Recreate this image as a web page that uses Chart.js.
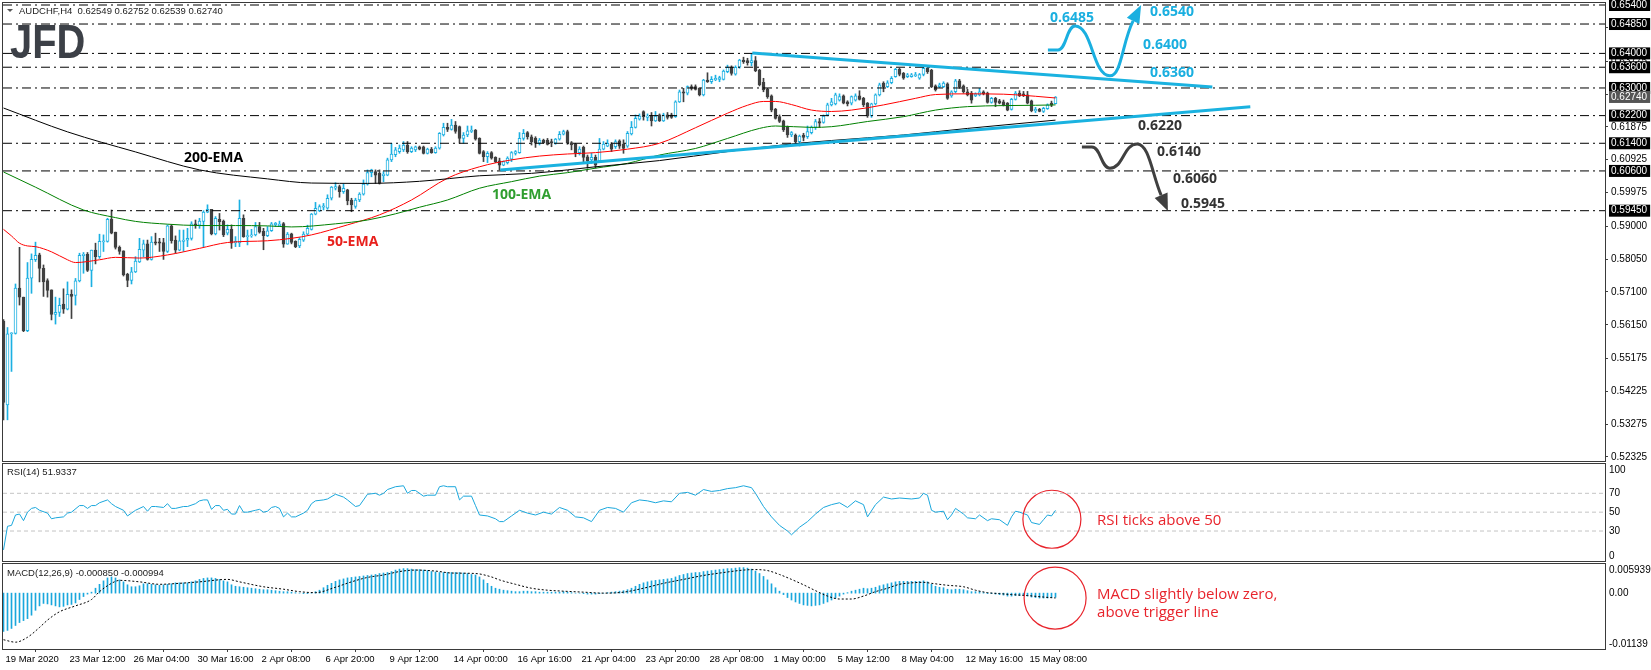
<!DOCTYPE html>
<html>
<head>
<meta charset="utf-8">
<title>AUDCHF H4</title>
<script src="https://cdn.jsdelivr.net/npm/chart.js@4.4.1/dist/chart.umd.min.js"></script>
<style>
  body { margin: 0; background: #fff; }
  #wrap { position: relative; width: 1651px; height: 670px; }
  canvas { position: absolute; left: 0; }
</style>
</head>
<body>
<div id="wrap">
  <canvas id="priceChart" style="top:0" width="1651" height="462"></canvas>
  <canvas id="rsiChart" style="top:462px" width="1651" height="100"></canvas>
  <canvas id="macdChart" style="top:562px" width="1651" height="108"></canvas>
</div>
<script>
// ---- values ----
const symbol = 'AUDCHF,H4';
const timeLabels = ['19 Mar 2020', '23 Mar 12:00', '26 Mar 04:00', '30 Mar 16:00', '2 Apr 08:00', '6 Apr 20:00',
  '9 Apr 12:00', '14 Apr 00:00', '16 Apr 16:00', '21 Apr 04:00', '23 Apr 20:00', '28 Apr 08:00',
  '1 May 00:00', '5 May 12:00', '8 May 04:00', '12 May 16:00', '15 May 08:00'];

const open = [
  .5626,.5383,.5589,.5590,.5721,.5695,.5598,.5750,.5803,.5817,
  .5778,.5743,.5716,.5645,.5651,.5675,.5660,.5703,.5700,.5742,
  .5815,.5819,.5772,.5831,.5812,.5855,.5856,.5920,.5883,.5839,
  .5829,.5761,.5743,.5768,.5797,.5831,.5849,.5804,.5855,.5855,
  .5853,.5827,.5901,.5860,.5831,.5856,.5860,.5865,.5907,.5903,
  .5914,.5941,.5949,.5878,.5920,.5915,.5880,.5891,.5852,.5852,
  .5923,.5870,.5872,.5875,.5899,.5885,.5873,.5887,.5904,.5902,
  .5908,.5848,.5878,.5856,.5843,.5860,.5877,.5891,.5935,.5945,
  .5955,.5952,.5981,.6010,.6015,.6000,.6005,.5976,.5957,.5976,
  .5993,.6022,.6055,.6058,.6053,.6046,.6048,.6092,.6107,.6116,
  .6121,.6135,.6116,.6121,.6130,.6130,.6111,.6123,.6113,.6126,
  .6164,.6186,.6180,.6193,.6188,.6154,.6164,.6174,.6178,.6154,
  .6116,.6101,.6113,.6099,.6089,.6077,.6084,.6094,.6111,.6113,
  .6154,.6171,.6159,.6154,.6140,.6149,.6149,.6145,.6140,.6152,
  .6166,.6174,.6142,.6138,.6113,.6128,.6101,.6092,.6099,.6089,
  .6123,.6132,.6138,.6130,.6147,.6138,.6132,.6167,.6186,.6210,
  .6232,.6215,.6219,.6205,.6222,.6205,.6222,.6222,.6217,.6260,
  .6289,.6285,.6304,.6304,.6299,.6280,.6323,.6318,.6323,.6325,
  .6325,.6347,.6360,.6340,.6360,.6381,.6379,.6373,.6379,.6352,
  .6316,.6296,.6277,.6238,.6217,.6205,.6186,.6164,.6164,.6145,
  .6164,.6159,.6171,.6186,.6203,.6200,.6222,.6251,.6254,.6265,
  .6277,.6260,.6256,.6265,.6277,.6270,.6256,.6219,.6254,.6280,
  .6314,.6304,.6315,.6333,.6354,.6342,.6333,.6333,.6335,.6328,
  .6339,.6357,.6352,.6306,.6304,.6304,.6312,.6277,.6289,.6321,
  .6306,.6289,.6285,.6277,.6280,.6289,.6285,.6258,.6270,.6263,
  .6260,.6256,.6238,.6267,.6285,.6283,.6280,.6263,.6234,.6238,
  .6232,.6240,.6256,.62549];
const high = [
  .5630,.5607,.5592,.5733,.5839,.5695,.5795,.5820,.5854,.5822,
  .5788,.5748,.5716,.5695,.5692,.5719,.5739,.5716,.5749,.5822,
  .5824,.5824,.5831,.5851,.5877,.5875,.5923,.5947,.5883,.5843,
  .5829,.5764,.5781,.5812,.5865,.5860,.5860,.5870,.5880,.5865,
  .5865,.5904,.5904,.5872,.5889,.5889,.5894,.5913,.5918,.5923,
  .5945,.5962,.5949,.5928,.5937,.5918,.5904,.5904,.5870,.5976,
  .5933,.5889,.5891,.5911,.5911,.5894,.5899,.5911,.5911,.5915,
  .5911,.5882,.5880,.5858,.5867,.5884,.5903,.5937,.5969,.5962,
  .5966,.5991,.6015,.6026,.6019,.6022,.6007,.5981,.5981,.5997,
  .6034,.6063,.6065,.6063,.6063,.6058,.6097,.6140,.6128,.6135,
  .6145,.6145,.6130,.6132,.6132,.6132,.6126,.6128,.6130,.6171,
  .6198,.6198,.6209,.6203,.6190,.6171,.6190,.6190,.6180,.6156,
  .6119,.6116,.6116,.6101,.6097,.6089,.6101,.6116,.6119,.6171,
  .6180,.6174,.6164,.6159,.6154,.6152,.6154,.6152,.6154,.6174,
  .6178,.6178,.6145,.6140,.6130,.6132,.6106,.6111,.6106,.6154,
  .6145,.6150,.6142,.6150,.6150,.6150,.6174,.6203,.6222,.6225,
  .6234,.6225,.6229,.6232,.6225,.6227,.6229,.6227,.6263,.6294,
  .6299,.6306,.6309,.6309,.6301,.6325,.6344,.6333,.6337,.6334,
  .6352,.6366,.6364,.6364,.6383,.6389,.6386,.6398,.6391,.6354,
  .6328,.6299,.6280,.6241,.6222,.6207,.6190,.6174,.6167,.6164,
  .6169,.6190,.6190,.6209,.6212,.6222,.6256,.6270,.6285,.6283,
  .6280,.6263,.6277,.6283,.6292,.6273,.6258,.6256,.6283,.6314,
  .6318,.6321,.6333,.6357,.6357,.6345,.6342,.6342,.6345,.6342,
  .6362,.6360,.6354,.6309,.6314,.6318,.6315,.6292,.6325,.6325,
  .6309,.6296,.6290,.6286,.6299,.6292,.6288,.6273,.6273,.6267,
  .6265,.6258,.6270,.6290,.6292,.6290,.6290,.6265,.6244,.6241,
  .6244,.6254,.6262,.62752];
const low = [
  .5340,.5340,.5480,.5588,.5672,.5595,.5595,.5706,.5798,.5739,
  .5697,.5695,.5629,.5617,.5639,.5648,.5658,.5633,.5672,.5739,
  .5764,.5769,.5725,.5791,.5807,.5827,.5854,.5878,.5834,.5819,
  .5756,.5725,.5733,.5766,.5795,.5812,.5802,.5802,.5846,.5827,
  .5804,.5824,.5851,.5822,.5829,.5827,.5841,.5860,.5894,.5894,
  .5841,.5939,.5875,.5875,.5889,.5870,.5875,.5836,.5841,.5841,
  .5868,.5846,.5868,.5872,.5880,.5832,.5870,.5885,.5899,.5899,
  .5839,.5848,.5849,.5838,.5838,.5856,.5875,.5889,.5933,.5942,
  .5947,.5949,.5976,.6005,.5984,.5995,.5962,.5942,.5952,.5971,
  .5990,.6019,.6043,.6024,.6022,.6029,.6046,.6087,.6101,.6111,
  .6116,.6111,.6113,.6116,.6121,.6109,.6109,.6111,.6111,.6123,
  .6161,.6174,.6178,.6169,.6140,.6140,.6159,.6171,.6149,.6109,
  .6087,.6084,.6094,.6084,.6063,.6075,.6080,.6087,.6106,.6111,
  .6149,.6152,.6135,.6128,.6135,.6140,.6135,.6130,.6137,.6149,
  .6164,.6137,.6121,.6101,.6106,.6087,.6068,.6082,.6068,.6087,
  .6121,.6130,.6116,.6125,.6125,.6111,.6128,.6164,.6184,.6207,
  .6207,.6205,.6190,.6203,.6203,.6203,.6210,.6212,.6215,.6258,
  .6260,.6280,.6294,.6294,.6277,.6277,.6316,.6313,.6321,.6318,
  .6323,.6344,.6337,.6337,.6357,.6371,.6366,.6364,.6347,.6306,
  .6289,.6270,.6231,.6210,.6200,.6174,.6157,.6159,.6140,.6132,
  .6147,.6154,.6167,.6180,.6186,.6198,.6219,.6248,.6251,.6262,
  .6254,.6248,.6251,.6262,.6265,.6246,.6215,.6215,.6251,.6277,
  .6289,.6301,.6312,.6331,.6335,.6325,.6330,.6331,.6333,.6325,
  .6335,.6342,.6301,.6291,.6301,.6301,.6267,.6273,.6286,.6299,
  .6285,.6277,.6256,.6275,.6277,.6280,.6256,.6256,.6246,.6254,
  .6248,.6234,.6236,.6265,.6275,.6275,.6254,.6231,.6229,.6231,
  .6229,.6238,.6246,.62539];
const close = [
  .5390,.5589,.5592,.5721,.5695,.5598,.5750,.5804,.5816,.5778,
  .5739,.5714,.5645,.5651,.5671,.5660,.5703,.5697,.5742,.5816,
  .5819,.5772,.5831,.5812,.5856,.5858,.5920,.5880,.5839,.5827,
  .5759,.5743,.5768,.5799,.5833,.5849,.5804,.5854,.5851,.5851,
  .5827,.5901,.5858,.5831,.5858,.5860,.5865,.5907,.5903,.5915,
  .5941,.5949,.5878,.5923,.5913,.5875,.5891,.5851,.5856,.5923,
  .5870,.5872,.5875,.5899,.5883,.5873,.5887,.5907,.5909,.5906,
  .5848,.5877,.5853,.5841,.5862,.5877,.5894,.5935,.5952,.5957,
  .5959,.5981,.6013,.6015,.6000,.6010,.5973,.5962,.5976,.5993,
  .6022,.6055,.6063,.6048,.6024,.6051,.6092,.6109,.6121,.6126,
  .6135,.6116,.6126,.6130,.6123,.6111,.6123,.6113,.6126,.6169,
  .6186,.6180,.6193,.6174,.6154,.6164,.6176,.6178,.6152,.6111,
  .6101,.6111,.6097,.6087,.6077,.6087,.6097,.6113,.6116,.6154,
  .6169,.6159,.6145,.6140,.6149,.6142,.6137,.6140,.6152,.6166,
  .6174,.6140,.6135,.6113,.6123,.6099,.6089,.6099,.6077,.6123,
  .6138,.6140,.6123,.6145,.6132,.6125,.6169,.6186,.6212,.6219,
  .6217,.6219,.6205,.6219,.6205,.6222,.6215,.6215,.6260,.6289,
  .6285,.6304,.6299,.6296,.6280,.6323,.6318,.6325,.6328,.6330,
  .6349,.6360,.6342,.6360,.6381,.6376,.6373,.6379,.6350,.6309,
  .6294,.6275,.6236,.6212,.6203,.6179,.6164,.6171,.6145,.6161,
  .6157,.6174,.6186,.6203,.6198,.6219,.6251,.6260,.6280,.6275,
  .6256,.6254,.6275,.6277,.6267,.6251,.6219,.6254,.6280,.6309,
  .6304,.6315,.6328,.6354,.6339,.6328,.6338,.6338,.6339,.6339,
  .6357,.6347,.6304,.6294,.6309,.6314,.6270,.6289,.6321,.6304,
  .6289,.6280,.6265,.6283,.6289,.6283,.6258,.6270,.6258,.6256,
  .6251,.6236,.6267,.6285,.6278,.6278,.6256,.6234,.6238,.6232,
  .6241,.6251,.6250,.62740];

// moving averages: [bar, value]
const ema50 = [[0,.5891],[2,.5872],[4,.5851],[6,.5843],[8,.5841],[12,.5826],[16,.5803],[18,.5795],[24,.5803],
  [28,.5810],[34,.5808],[41,.5817],[49,.5836],[56,.5853],[66,.5858],[72,.5865],[77,.5875],[86,.5904],[94,.5933],
  [102,.5976],[111,.6039],[119,.6072],[127,.6092],[134,.6103],[141,.6109],[148,.6113],[156,.6123],[164,.6140],
  [173,.6185],[181,.6227],[186,.6250],[190,.6261],[193,.6261],[197,.6252],[202,.6236],[207,.6232],[212,.6236],
  [220,.6251],[228,.6270],[233,.6281],[241,.6283],[250,.6282],[258,.6276],[263,.6271]];
const ema100 = [[0,.6057],[8,.6013],[20,.5947],[28,.5925],[33,.5914],[41,.5906],[49,.5902],[58,.5902],[66,.5901],
  [72,.5898],[83,.5907],[91,.5918],[98,.5936],[104,.5955],[111,.5976],[119,.6010],[127,.6029],[134,.6045],
  [141,.6055],[148,.6068],[156,.6082],[164,.6106],[173,.6125],[181,.6154],[189,.6183],[193,.6190],[202,.6186],
  [207,.6188],[216,.6203],[225,.6217],[233,.6236],[241,.6246],[250,.6249],[258,.6250],[263,.6251]];
const ema200 = [[0,.6242],[16,.6173],[33,.6115],[49,.6063],[66,.6037],[77,.6025],[91,.6024],[104,.6030],
  [119,.6046],[132,.6053],[141,.6063],[148,.6072],[164,.6090],[181,.6116],[197,.6138],[207,.6148],[225,.6164],
  [241,.6183],[263,.6207]];

const upperTrend = [[187.2, .6401], [302.2, .6303]];
const lowerTrend = [[124.2, .6063], [311.7, .6246]];
const levels = [0.6540, 0.6485, 0.6400, 0.6360, 0.6300, 0.6220, 0.6140, 0.6060, 0.5945];
const priceTicks = [0.52325, 0.53275, 0.54225, 0.55175, 0.56150, 0.57100, 0.58050, 0.59000,
  0.59975, 0.60925, 0.61875, 0.62825, 0.63775, 0.64750];

// RSI(14): [bar, value]
const rsi = [[0,10],[1,35],[2,36],[3,47],[4,48],[5,41],[6,50],[7,54],[8,55],[9,52],[11,49],[12,43],[13,44],
  [15,45],[16,49],[17,50],[19,57],[20,57],[21,54],[22,57],[23,57],[24,60],[26,63],[27,59],[28,56],[30,52],
  [31,46],[32,49],[33,52],[35,56],[36,51],[37,56],[38,56],[40,55],[41,59],[42,54],[43,54],[45,56],[46,56],
  [48,59],[49,62],[50,63],[51,63],[52,53],[53,57],[54,57],[55,52],[56,53],[57,48],[58,48],[59,57],[60,50],
  [61,50],[63,52],[64,53],[65,50],[66,51],[67,55],[68,56],[69,54],[70,45],[71,49],[72,45],[73,45],[75,49],
  [76,52],[77,59],[78,62],[80,63],[81,64],[83,69],[85,66],[86,63],[88,56],[89,57],[90,63],[91,69],[93,70],
  [94,68],[95,70],[96,74],[98,77],[100,78],[101,70],[102,73],[103,73],[105,67],[106,68],[108,68],[109,77],
  [110,78],[111,77],[113,77],[114,63],[115,67],[117,67],[118,57],[119,47],[121,46],[123,43],[124,40],
  [125,40],[127,46],[129,52],[131,49],[133,47],[135,50],[137,48],[139,55],[141,52],[143,45],[145,44],
  [147,40],[149,52],[151,55],[153,54],[155,50],[157,60],[159,63],[161,62],[163,60],[165,62],[167,61],
  [169,70],[171,71],[173,68],[175,74],[177,72],[179,73],[181,75],[183,76],[185,78],[187,76],[188,70],
  [190,56],[192,45],[194,36],[196,30],[197,26],[199,34],[201,40],[203,48],[205,55],[207,58],[209,60],
  [211,55],[213,62],[215,58],[216,45],[218,58],[220,66],[222,64],[224,65],[227,64],[229,65],[230,70],
  [231,68],[232,52],[233,50],[235,51],[236,42],[237,47],[238,54],[240,48],[241,44],[243,43],[244,47],
  [246,41],[247,43],[249,42],[251,36],[252,45],[253,51],[254,50],[256,47],[257,39],[259,37],[260,42],
  [261,47],[262,46],[263,51.9337]];
const rsiLevels = [70, 50, 30];

// MACD(12,26,9) main histogram, one value per bar
const macdHist = [
  -0.0078,-0.0076,-0.0072,-0.0066,-0.0060,-0.0056,-0.0052,-0.0045,-0.0035,-0.0026,
  -0.0021,-0.0022,-0.0024,-0.0026,-0.0028,-0.0027,-0.0024,-0.0023,-0.0020,-0.0013,
  -0.0007,-0.0002,0.0002,0.0010,0.0018,0.0025,0.0031,0.0033,0.0031,0.0027,
  0.0023,0.0017,0.0013,0.0013,0.0015,0.0019,0.0019,0.0018,0.0017,0.0016,
  0.0017,0.0018,0.0019,0.0021,0.0021,0.0021,0.0021,0.0023,0.0025,0.0028,
  0.0030,0.0031,0.0031,0.0030,0.0028,0.0025,0.0023,0.0017,0.0014,0.0013,
  0.0012,0.0011,0.0010,0.0009,0.0008,0.0007,0.0007,0.0006,0.0005,0.0004,
  0.0003,0.0003,0.0002,0.0001,0.0000,-0.0001,-0.0001,0.0000,0.0003,0.0006,
  0.0011,0.0016,0.0020,0.0024,0.0027,0.0029,0.0031,0.0032,0.0033,0.0034,
  0.0035,0.0036,0.0037,0.0038,0.0040,0.0041,0.0042,0.0044,0.0047,0.0049,
  0.0050,0.0050,0.0049,0.0048,0.0048,0.0047,0.0046,0.0044,0.0043,0.0042,
  0.0042,0.0042,0.0042,0.0042,0.0042,0.0041,0.0040,0.0038,0.0037,0.0033,
  0.0027,0.0020,0.0014,0.0010,0.0008,0.0006,0.0005,0.0004,0.0003,0.0003,
  0.0004,0.0004,0.0003,0.0003,0.0002,0.0002,0.0002,0.0002,0.0002,0.0002,
  0.0003,0.0002,0.0001,0.0000,0.0000,-0.0001,-0.0002,-0.0002,-0.0002,-0.0001,
  0.0000,0.0001,0.0002,0.0003,0.0004,0.0005,0.0007,0.0010,0.0014,0.0018,
  0.0021,0.0023,0.0025,0.0026,0.0027,0.0028,0.0029,0.0030,0.0033,0.0036,
  0.0038,0.0040,0.0041,0.0042,0.0042,0.0044,0.0045,0.0046,0.0047,0.0048,
  0.0049,0.0050,0.0050,0.0051,0.0052,0.0052,0.0051,0.0049,0.0045,0.0040,
  0.0034,0.0027,0.0019,0.0011,0.0004,-0.0003,-0.0009,-0.0014,-0.0018,-0.0021,
  -0.0024,-0.0025,-0.0026,-0.0025,-0.0024,-0.0021,-0.0018,-0.0014,-0.0010,-0.0006,
  -0.0002,0.0001,0.0004,0.0006,0.0008,0.0010,0.0009,0.0010,0.0012,0.0015,
  0.0017,0.0019,0.0021,0.0023,0.0024,0.0024,0.0024,0.0024,0.0024,0.0024,
  0.0025,0.0023,0.0018,0.0014,0.0012,0.0011,0.0008,0.0007,0.0008,0.0008,
  0.0007,0.0005,0.0003,0.0003,0.0003,0.0001,-0.0001,-0.0001,-0.0002,-0.0003,
  -0.0004,-0.0006,-0.0006,-0.0005,-0.0005,-0.0005,-0.0006,-0.0008,-0.0009,-0.0010,
  -0.0010,-0.0010,-0.0009,-0.000850];
// signal line: [bar, value]
const macdSignal = [[0,-0.0095],[3,-0.0100],[6,-0.0090],[9,-0.0070],[11,-0.0055],[14,-0.0038],[18,-0.0026],
  [22,-0.0013],[24,0.0003],[27,0.0020],[29,0.0026],[34,0.0023],[39,0.0018],[44,0.0020],[49,0.0023],
  [56,0.0028],[59,0.0023],[65,0.0013],[70,0.0008],[74,0.0003],[78,0.0001],[83,0.0012],[87,0.0023],
  [91,0.0032],[95,0.0037],[99,0.0044],[103,0.0047],[108,0.0045],[112,0.0041],[118,0.0040],[122,0.0033],
  [124,0.0027],[128,0.0018],[132,0.0010],[136,0.0006],[140,0.0004],[145,0.0002],[150,0.0000],[155,0.0002],
  [160,0.0010],[165,0.0020],[170,0.0028],[175,0.0036],[180,0.0042],[185,0.0047],[188,0.0048],[191,0.0046],
  [194,0.0038],[197,0.0028],[200,0.0017],[203,0.0005],[206,-0.0006],[209,-0.0012],[212,-0.0012],
  [215,-0.0006],[218,0.0003],[221,0.0010],[224,0.0018],[227,0.0021],[230,0.0022],[232,0.0020],
  [236,0.0016],[240,0.0013],[243,0.0006],[246,0.0001],[249,-0.0001],[252,-0.0003],[256,-0.0005],
  [260,-0.0008],[263,-0.000994]];

// ---- notes drawn on the chart, anchored in bar / value units ----
const emaNotes = [['200-EMA', 45.1, .60974, '#000000'], ['100-EMA', 122.1, .59904, '#2f9e2f'], ['50-EMA', 80.9, .58544, '#e8201c']];
const upNotes = [['0.6485', 261.6, .65024], ['0.6540', 286.6, .65198], ['0.6400', 284.9, .64243], ['0.6360', 286.6, .63433]];
const downNotes = [['0.6220', 283.6, .6190], ['0.6140', 288.4, .61148], ['0.6060', 292.4, .60367], ['0.5945', 294.4, .59644]];
const upArrow = [[261.1,.6410],[263.6,.6410],[267.9,.6479],[276.6,.6335],[282.4,.6494]], upTip = [284.4,.6540];
const downArrow = [[269.6,.6129],[272.1,.6129],[276.6,.6068],[283.4,.6138],[289.4,.5990]], downTip = [291.1,.5944];

const X_MIN = -0.125, X_MAX = 400.375;
const CYAN = '#1cb0e2', DARK = '#404040', FRAME = '#3a3a3a', RED = '#e8242c';
Chart.defaults.font.family = "'Liberation Sans', Arial, sans-serif";
Chart.defaults.animation = false;

const bars = open.map((_, i) => i);
const last = bars.length - 1;
const isUp = i => close[i] >= open[i];
const pts = arr => arr.map(p => ({x: p[0], y: p[1]}));
const hline = (v, color, dash) => ({ type: 'line', data: [{x: X_MIN, y: v}, {x: X_MAX, y: v}],
  borderColor: color, borderWidth: 1, borderDash: dash, pointRadius: 0 });
const boxed = v => levels.includes(v) || v === close[last];

function fixAxis(scale) {
  scale.width = 46;
  scale.paddingTop = 0;
  scale.paddingBottom = 0;
}

const framePlugin = {
  id: 'frame',
  afterDraw(chart) {
    const {ctx, chartArea: a} = chart;
    ctx.save();
    ctx.strokeStyle = FRAME;
    ctx.lineWidth = 1;
    ctx.strokeRect(a.left - 0.5, a.top - 0.5, a.right - a.left + 1, a.bottom - a.top + 1);
    ctx.restore();
  }
};

// right-hand labels for the indicator panes, kept inside the pane
const sideLabels = {
  id: 'sideLabels',
  afterDraw(chart, args, opts) {
    const {ctx, chartArea: a} = chart;
    const y = chart.scales.y;
    ctx.save();
    ctx.font = "10px 'Liberation Sans', Arial";
    ctx.fillStyle = '#000';
    ctx.textBaseline = 'middle';
    opts.values.forEach((v, k) => {
      const py = Math.min(Math.max(y.getPixelForValue(v), a.top + 6), a.bottom - 5);
      ctx.fillText(opts.labels[k], a.right + 4, py);
    });
    ctx.restore();
  }
};

function drawArrow(ctx, p, tip, color) {
  const base = p[p.length - 1];
  ctx.strokeStyle = color;
  ctx.fillStyle = color;
  ctx.lineWidth = 3;
  ctx.lineJoin = 'round';
  ctx.beginPath();
  ctx.moveTo(p[0][0], p[0][1]);
  ctx.lineTo(p[1][0], p[1][1]);
  for (let i = 1; i < p.length - 1; i++) {
    const a = p[i], b = p[i + 1];
    const dx = (b[0] - a[0]) / 2;
    let c2 = [b[0] - dx, b[1]];
    if (i === p.length - 2) { // last stretch bends towards the head
      const ux = tip[0] - b[0], uy = tip[1] - b[1], len = Math.hypot(ux, uy);
      const k = Math.abs(b[1] - a[1]) * 0.45;
      c2 = [b[0] - ux / len * k, b[1] - uy / len * k];
    }
    ctx.bezierCurveTo(a[0] + dx, a[1], c2[0], c2[1], b[0], b[1]);
  }
  ctx.stroke();
  const ux = tip[0] - base[0], uy = tip[1] - base[1], len = Math.hypot(ux, uy);
  const nx = -uy / len * 7, ny = ux / len * 7;
  ctx.beginPath();
  ctx.moveTo(tip[0], tip[1]);
  ctx.lineTo(base[0] + nx, base[1] + ny);
  ctx.lineTo(base[0] - nx, base[1] - ny);
  ctx.closePath();
  ctx.fill();
}

const priceNotes = {
  id: 'priceNotes',
  afterDatasetsDraw(chart) {
    const {ctx, scales: {x, y}} = chart;
    const px = p => [x.getPixelForValue(p[0]), y.getPixelForValue(p[1])];
    ctx.save();
    ctx.textBaseline = 'middle';
    ctx.font = "bold 14px 'Open Sans', sans-serif";
    emaNotes.forEach(([t, b, v, c]) => { ctx.fillStyle = c; ctx.fillText(t, ...px([b, v])); });
    ctx.fillStyle = '#1aafe0';
    upNotes.forEach(([t, b, v]) => ctx.fillText(t, ...px([b, v])));
    ctx.fillStyle = '#333333';
    downNotes.forEach(([t, b, v]) => ctx.fillText(t, ...px([b, v])));
    drawArrow(ctx, upArrow.map(px), px(upTip), '#1aafe0');
    drawArrow(ctx, downArrow.map(px), px(downTip), '#404040');
    ctx.restore();
  },
  afterDraw(chart) {
    const ctx = chart.ctx;
    ctx.save();
    // symbol header
    ctx.fillStyle = '#555';
    ctx.beginPath();
    ctx.moveTo(7, 9); ctx.lineTo(13, 9); ctx.lineTo(10, 12); ctx.closePath(); ctx.fill();
    ctx.fillStyle = '#222';
    ctx.font = "9.5px 'Liberation Sans', Arial";
    ctx.textBaseline = 'middle';
    const ohlc = [open[last], high[last], low[last], close[last]].map(v => v.toFixed(5)).join(' ');
    ctx.fillText(symbol + '  ' + ohlc, 19, 11);
    // broker logo
    ctx.fillStyle = '#3c4047';
    ctx.font = "bold 48px 'Liberation Sans', Arial";
    ctx.textBaseline = 'alphabetic';
    ctx.translate(10, 58);
    ctx.scale(0.83, 1);
    ctx.fillText('JFD', 0, 0);
    ctx.restore();
  }
};

const rsiNotes = {
  id: 'rsiNotes',
  afterDatasetsDraw(chart) {
    const {ctx, scales: {x, y}} = chart;
    ctx.save();
    ctx.strokeStyle = RED;
    ctx.lineWidth = 1.2;
    ctx.beginPath();
    ctx.arc(x.getPixelForValue(262.1), y.getPixelForValue(42.5), 29, 0, Math.PI * 2);
    ctx.stroke();
    ctx.fillStyle = RED;
    ctx.font = "15px 'Open Sans', sans-serif";
    ctx.textBaseline = 'middle';
    ctx.fillText('RSI ticks above 50', x.getPixelForValue(273.4), y.getPixelForValue(40.4));
    ctx.fillStyle = '#222';
    ctx.font = "9.5px 'Liberation Sans', Arial";
    ctx.fillText('RSI(14) ' + rsi[rsi.length - 1][1].toFixed(4), 7, 10);
    ctx.restore();
  }
};

const macdNotes = {
  id: 'macdNotes',
  afterDatasetsDraw(chart) {
    const {ctx, scales: {x, y}} = chart;
    ctx.save();
    ctx.strokeStyle = RED;
    ctx.lineWidth = 1.2;
    ctx.beginPath();
    ctx.arc(x.getPixelForValue(262.9), y.getPixelForValue(-0.0010), 31, 0, Math.PI * 2);
    ctx.stroke();
    ctx.fillStyle = RED;
    ctx.font = "15px 'Open Sans', sans-serif";
    ctx.textBaseline = 'middle';
    ctx.fillText('MACD slightly below zero,', x.getPixelForValue(273.4), y.getPixelForValue(-0.0004));
    ctx.fillText('above trigger line', x.getPixelForValue(273.4), y.getPixelForValue(-0.0039));
    ctx.fillStyle = '#222';
    ctx.font = "9.5px 'Liberation Sans', Arial";
    ctx.fillText('MACD(12,26,9) ' + macdHist[last].toFixed(6) + ' ' + macdSignal[macdSignal.length - 1][1].toFixed(6), 7, 11);
    ctx.restore();
  }
};

const hiddenX = { type: 'linear', min: X_MIN, max: X_MAX, offset: false, display: false };
const baseOptions = {
  responsive: false,
  events: [],
  plugins: { legend: { display: false }, tooltip: { enabled: false } }
};

// ---- price pane ----
new Chart(document.getElementById('priceChart'), {
  type: 'line',
  data: {
    datasets: [
      { type: 'bar', data: bars.map(i => ({x: i, y: [low[i], high[i]]})),
        backgroundColor: bars.map(i => isUp(i) ? CYAN : DARK), barThickness: 1, grouped: false, order: 10 },
      { type: 'bar', data: bars.map(i => ({x: i, y: [open[i], close[i]]})),
        backgroundColor: bars.map(i => isUp(i) ? '#ffffff' : DARK),
        borderColor: bars.map(i => isUp(i) ? CYAN : DARK), borderWidth: 1, borderSkipped: false,
        barThickness: 3, minBarLength: 1, grouped: false, order: 9 },
      ...levels.map(v => ({ ...hline(v, '#000', [9, 4, 2, 4]), order: 8 })),
      { data: pts(ema200), borderColor: '#000', borderWidth: 1, pointRadius: 0, cubicInterpolationMode: 'monotone', order: 7 },
      { data: pts(ema100), borderColor: '#008000', borderWidth: 1, pointRadius: 0, cubicInterpolationMode: 'monotone', order: 7 },
      { data: pts(ema50), borderColor: '#ff0000', borderWidth: 1, pointRadius: 0, cubicInterpolationMode: 'monotone', order: 7 },
      { data: pts(upperTrend), borderColor: '#1ab2e0', borderWidth: 3, pointRadius: 0, order: 6 },
      { data: pts(lowerTrend), borderColor: '#1ab2e0', borderWidth: 3, pointRadius: 0, order: 6 }
    ]
  },
  options: {
    ...baseOptions,
    layout: { padding: { left: 3, right: 0, top: 3, bottom: 1 } },
    scales: {
      x: hiddenX,
      y: {
        position: 'right', min: 0.52209, max: 0.65458,
        afterFit: fixAxis,
        afterBuildTicks: s => { s.ticks = [...priceTicks, ...levels, close[last]].map(v => ({value: v})); },
        border: { display: false },
        grid: { drawOnChartArea: false, drawTicks: true, tickLength: 3,
          color: c => boxed(c.tick.value) ? 'rgba(0,0,0,0)' : '#404040' },
        ticks: {
          autoSkip: false, padding: 3, font: { size: 10 },
          color: c => boxed(c.tick.value) ? '#ffffff' : '#000000',
          showLabelBackdrop: c => boxed(c.tick.value),
          backdropColor: c => c.tick.value === close[last] ? '#555555' : '#000000',
          backdropPadding: { top: 0, bottom: 0, left: 2, right: 3 },
          callback: v => v.toFixed(5)
        }
      }
    }
  },
  plugins: [framePlugin, priceNotes]
});

// ---- RSI pane ----
new Chart(document.getElementById('rsiChart'), {
  type: 'line',
  data: {
    datasets: [
      ...rsiLevels.map(v => ({ ...hline(v, '#c4c4c4', [4, 3]), order: 2 })),
      { data: pts(rsi), borderColor: '#1aa7dc', borderWidth: 1, pointRadius: 0, tension: 0, order: 1 }
    ]
  },
  options: {
    ...baseOptions,
    layout: { padding: { left: 3, right: 46, top: 2, bottom: 1 } },
    scales: { x: hiddenX, y: { min: -1.8, max: 101.1, display: false } },
    plugins: { ...baseOptions.plugins, sideLabels: { values: [100, 70, 50, 30, 0], labels: ['100', '70', '50', '30', '0'] } }
  },
  plugins: [framePlugin, sideLabels, rsiNotes]
});

// ---- MACD pane ----
new Chart(document.getElementById('macdChart'), {
  type: 'line',
  data: {
    datasets: [
      { type: 'bar', data: bars.map(i => ({x: i, y: macdHist[i]})), backgroundColor: '#1aa7dc',
        barThickness: 1, grouped: false, order: 2 },
      { data: pts(macdSignal), borderColor: '#000', borderWidth: 1, borderDash: [2, 2], pointRadius: 0,
        cubicInterpolationMode: 'monotone', order: 1 }
    ]
  },
  options: {
    ...baseOptions,
    layout: { padding: { left: 3, right: 46, top: 2, bottom: 0 } },
    scales: {
      x: {
        type: 'linear', min: X_MIN, max: X_MAX, offset: false, position: 'bottom',
        afterBuildTicks: s => { s.ticks = timeLabels.map((_, k) => ({value: k * 16})); },
        afterFit: s => { s.height = 21; s.paddingLeft = 0; s.paddingRight = 0; },
        border: { display: false },
        grid: { drawOnChartArea: false, drawTicks: true, tickLength: 3, color: '#404040' },
        ticks: { autoSkip: false, maxRotation: 0, align: 'start', labelOffset: 2, padding: 2,
          font: { size: 9.5 }, color: '#000', callback: (v, k) => timeLabels[k] }
      },
      y: { min: -0.01139, max: 0.005939, display: false }
    },
    plugins: { ...baseOptions.plugins, sideLabels: { values: [0.005939, 0, -0.01139], labels: ['0.005939', '0.00', '-0.01139'] } }
  },
  plugins: [framePlugin, sideLabels, macdNotes]
});
</script>
</body>
</html>
